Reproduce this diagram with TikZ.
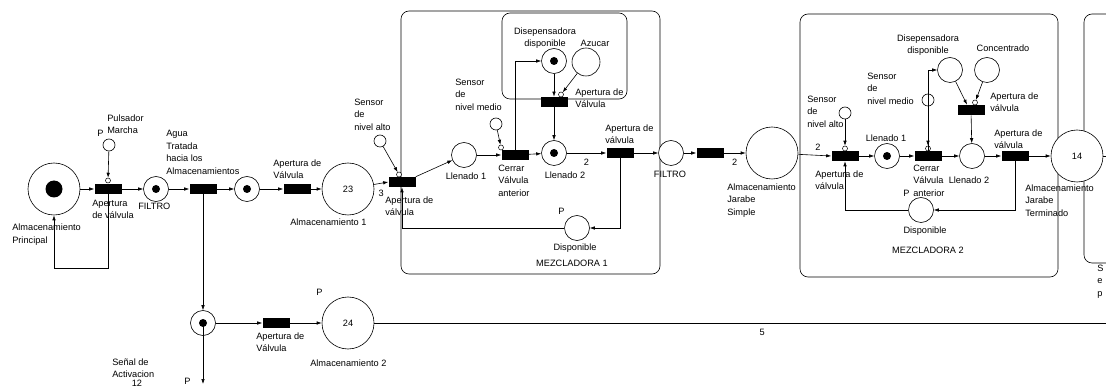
\documentclass[tikz,border=0pt]{standalone}
\usepackage{fontspec}
\setmainfont{Liberation Sans}
\usetikzlibrary{positioning, arrows.meta}
\newcommand{\pnfont}{\fontsize{9.2}{12.5}\selectfont}

\begin{document}
\begin{tikzpicture}[x=1pt, y=-1pt, line width=0.6pt,
    every node/.style={font=\pnfont},
    place/.style={circle, draw, fill=white, minimum size=25pt, inner sep=0pt},
    store/.style={circle, draw, fill=white, minimum size=52pt, inner sep=0pt},
    probe/.style={circle, draw, fill=white, minimum size=12pt, inner sep=0pt},
    ring/.style={circle, draw, fill=white, minimum size=5pt, inner sep=0pt, line width=0.5pt},
    token/.style={circle, fill=black, minimum size=8pt, inner sep=0pt},
    bigtoken/.style={token, minimum size=17pt},
    trans/.style={rectangle, fill=black, minimum width=27pt, minimum height=10pt, inner sep=0pt},
    lbl/.style={inner sep=0pt, align=left, anchor=north west},
    clbl/.style={inner sep=0pt, align=center, anchor=north},
    arc/.style={-{Latex[length=5pt,width=3.5pt]}},
    box/.style={draw, rounded corners=8pt}
  ]
  \useasboundingbox (0,0) rectangle (1106,387);

  % mixer frames
  \draw[box] (401,11) rectangle (660,274);
  \draw[box] (502,13) rectangle (627,99);
  \draw[box] (800,14) rectangle (1058,277);
  \draw[box] (1084,14) rectangle (1140,263);

  % feed line
  \node[store] (almP) at (54,189) {};
  \node[trans] (tMarcha) at (108,189) {};
  \node[probe] (puls) at (109,145) {};
  \node[ring] (rMarcha) at (108,180.5) {};
  \node[place] (filtro) at (156,189) {};
  \node[trans] (tAgua) at (203,189) {};
  \node[place] (pAgua) at (247,189) {};
  \node[trans] (tAlm1) at (297,189) {};
  \node[store] (alm1) at (348,189) {23};
  \node[place] (pSplit) at (203,323) {};
  \node[trans] (tAlm2) at (276,323) {};
  \node[store] (alm2) at (348,323) {24};
  \coordinate (sOut) at (203,384);
  \coordinate (eFive) at (1106,323);

  % mezcladora 1
  \node[trans] (tM1in) at (402,182) {};
  \node[probe] (altoA) at (380,141) {};
  \node[ring] (rM1in) at (399,174.5) {};
  \node[place] (llen1A) at (464,155) {};
  \node[trans] (tCerrA) at (515,155) {};
  \node[probe] (medioA) at (496,124) {};
  \node[ring] (rCerrA) at (501,147.5) {};
  \node[place] (dispA) at (554,61) {};
  \node[place, minimum size=28pt] (azucar) at (586,62) {};
  \node[trans] (tAzuc) at (554,102) {};
  \node[ring] (rAzuc) at (561,94.5) {};
  \node[place] (llen2A) at (554,153) {};
  \node[trans] (tM1out) at (620,153) {};
  \node[place] (libreA) at (577,228) {};
  \node[place] (filtro2) at (671,153) {};
  \node[trans] (tJS) at (710,153) {};
  \node[store] (almJS) at (772,153) {};

  % mezcladora 2
  \node[trans] (tM2in) at (845,156) {};
  \node[probe] (altoB) at (845,113) {};
  \node[ring] (rM2in) at (845,148.5) {};
  \node[place] (llen1B) at (887,156) {};
  \node[trans] (tCerrB) at (928,156) {};
  \node[probe] (medioB) at (928,100) {};
  \node[ring] (rCerrB) at (928,148.5) {};
  \node[place] (dispB) at (950,70) {};
  \node[place] (concen) at (987,70) {};
  \node[trans] (tConc) at (971,110) {};
  \node[ring] (rConc) at (975,102.5) {};
  \node[place] (llen2B) at (972,156) {};
  \node[trans] (tM2out) at (1015,156) {};
  \node[place] (libreB) at (921,210) {};
  \node[store] (almJT) at (1077,156) {14};
  \coordinate (eJT) at (1106,156);

  % arcs
  \draw[arc] (almP) -- (tMarcha);
  \draw[arc] (puls) -- (rMarcha);
  \draw[arc] (tMarcha.south) -- ++(0,74) -| (almP.south);
  \draw[arc] (tMarcha) -- (filtro);
  \draw[arc] (filtro) -- (tAgua);
  \draw[arc] (tAgua) -- (pAgua);
  \draw[arc] (pAgua) -- (tAlm1);
  \draw[arc] (tAlm1) -- (alm1);
  \draw[arc] (tAgua.south) -- (pSplit.north);
  \draw[arc] (pSplit.center) -- (sOut);
  \draw[arc] (pSplit) -- (tAlm2);
  \draw[arc] (tAlm2) -- (alm2);
  \draw (alm2.east) -- (eFive) node[pos=0.53, below=3pt] {5};

  \draw[arc] (alm1) -- (tM1in.west) node[pos=0.5, below=3pt] {3};
  \draw[arc] (altoA) -- (rM1in);
  \draw[arc] (tM1in.north east) -- (llen1A);
  \draw[arc] (llen1A) -- (tCerrA);
  \draw[arc] (medioA) -- (rCerrA);
  \draw[arc] (tCerrA.north) |- (dispA.west);
  \draw[arc] (dispA) -- (tAzuc);
  \draw[arc] (azucar) -- (rAzuc);
  \draw[arc] (tAzuc) -- (llen2A);
  \draw[arc] (tCerrA) -- (llen2A);
  \draw[arc] (llen2A) -- (tM1out) node[pos=0.5, below=2pt] {2};
  \draw[arc] (tM1out.south) |- (libreA.east);
  \draw[arc] (libreA.west) -| (tM1in.south);
  \draw[arc] (tM1out) -- (filtro2);
  \draw[arc] (filtro2) -- (tJS);
  \draw[arc] (tJS) -- (almJS) node[pos=0.5, below=2pt] {2};

  \draw[arc] (almJS) -- (tM2in.west) node[pos=0.6, above=1pt] {2};
  \draw[arc] (altoB) -- (rM2in);
  \draw[arc] (tM2in) -- (llen1B);
  \draw[arc] (llen1B) -- (tCerrB);
  \draw[arc] (medioB) -- (rCerrB);
  \draw[arc] (tCerrB.north) |- (dispB.west);
  \draw[arc] (dispB) -- ([xshift=-4pt]tConc.north);
  \draw[arc] (concen) -- (rConc);
  \draw[arc] (tConc) -- (llen2B);
  \draw[arc] (tCerrB) -- (llen2B);
  \draw[arc] (llen2B) -- (tM2out);
  \draw[arc] (tM2out.south) |- (libreB.east);
  \draw[arc] (libreB.west) -| (tM2in.south);
  \draw[arc] (tM2out) -- (almJT);
  \draw (almJT.east) -- (eJT);

  % tokens
  \node[bigtoken] (kAlmP) at (almP) {};
  \node[token] (kFiltro) at (filtro) {};
  \node[token] (kAgua) at (pAgua) {};
  \node[token] (kSplit) at (pSplit) {};
  \node[token] (kDispA) at (dispA) {};
  \node[token] (kLlen2A) at (llen2A) {};
  \node[token] (kLlen1B) at (llen1B) {};

  % labels
  \node[lbl] (lAlmP) at (12,224) {Almacenamiento\\Principal};
  \node[lbl] (lP1) at (97,129.5) {P};
  \node[lbl] (lPuls) at (107,114.5) {Pulsador\\Marcha};
  \node[lbl] (lMarcha) at (92,199.5) {Apertura\\de válvula};
  \node[lbl] (lFiltro) at (138,202.5) {FILTRO};
  \node[lbl] (lAgua) at (166,130) {Agua\\Tratada\\hacia los\\Almacenamientos};
  \node[lbl] (lAlm1t) at (273,159.5) {Apertura de\\Válvula};
  \node[lbl] (lAlm1) at (290,218.5) {Almacenamiento 1};
  \node[lbl] (lP2) at (316,288.5) {P};
  \node[lbl] (lAlm2t) at (256,332.5) {Apertura de\\Válvula};
  \node[lbl] (lAlm2) at (310,359.5) {Almacenamiento 2};
  \node[lbl] (lSenal) at (112,358.5) {Señal de\\Activacion};
  \node[clbl] (lDoce) at (137,379.5) {12};
  \node[lbl] (lP3) at (184,377.5) {P};

  \node[lbl] (lAltoA) at (354,98.5) {Sensor\\de\\nivel alto};
  \node[lbl] (lM1in) at (385,196.5) {Apertura de\\válvula};
  \node[clbl] (lLlen1A) at (466,172.5) {Llenado 1};
  \node[lbl] (lMedioA) at (455,78.5) {Sensor\\de\\nivel medio};
  \node[lbl] (lCerrA) at (498,164.5) {Cerrar\\Válvula\\anterior};
  \node[clbl] (lDispA) at (545,27.5) {Disepensadora\\disponible};
  \node[clbl] (lAzucar) at (595,39.5) {Azucar};
  \node[lbl] (lAzuc) at (575,88.5) {Apertura de\\Válvula};
  \node[clbl] (lLlen2A) at (565,171.5) {Llenado 2};
  \node[lbl] (lM1out) at (605,124.5) {Apertura de\\válvula};
  \node[lbl] (lP4) at (558,207.5) {P};
  \node[clbl] (lLibreA) at (575,243.5) {Disponible};
  \node[clbl] (lMezA) at (572,259.5) {MEZCLADORA 1};
  \node[clbl] (lFiltro2) at (670,170.5) {FILTRO};
  \node[lbl] (lJS) at (727,183.5) {Almacenamiento\\Jarabe\\Simple};

  \node[lbl] (lAltoB) at (807,95.5) {Sensor\\de\\nivel alto};
  \node[lbl] (lM2in) at (815,170.5) {Apertura de\\válvula};
  \node[clbl] (lLlen1B) at (886,134.5) {Llenado 1};
  \node[lbl] (lMedioB) at (867,72.5) {Sensor\\de\\nivel medio};
  \node[clbl] (lDispB) at (928,34.5) {Disepensadora\\disponible};
  \node[clbl] (lConcen) at (1003,44.5) {Concentrado};
  \node[lbl] (lConc) at (990,92.5) {Apertura de\\válvula};
  \node[lbl] (lCerrB) at (913,164.5) {Cerrar\\Válvula\\anterior};
  \node[clbl] (lLlen2B) at (969,176.5) {Llenado 2};
  \node[lbl] (lM2out) at (994,129.5) {Apertura de\\válvula};
  \node[lbl] (lP5) at (903,189.5) {P};
  \node[clbl] (lLibreB) at (925,226.5) {Disponible};
  \node[clbl] (lMezB) at (928,246.5) {MEZCLADORA 2};
  \node[lbl] (lJT) at (1025,184.5) {Almacenamiento\\Jarabe\\Terminado};
  \node[lbl] (lCut) at (1097,264.5) {S\\e\\p};
\end{tikzpicture}
\end{document}
